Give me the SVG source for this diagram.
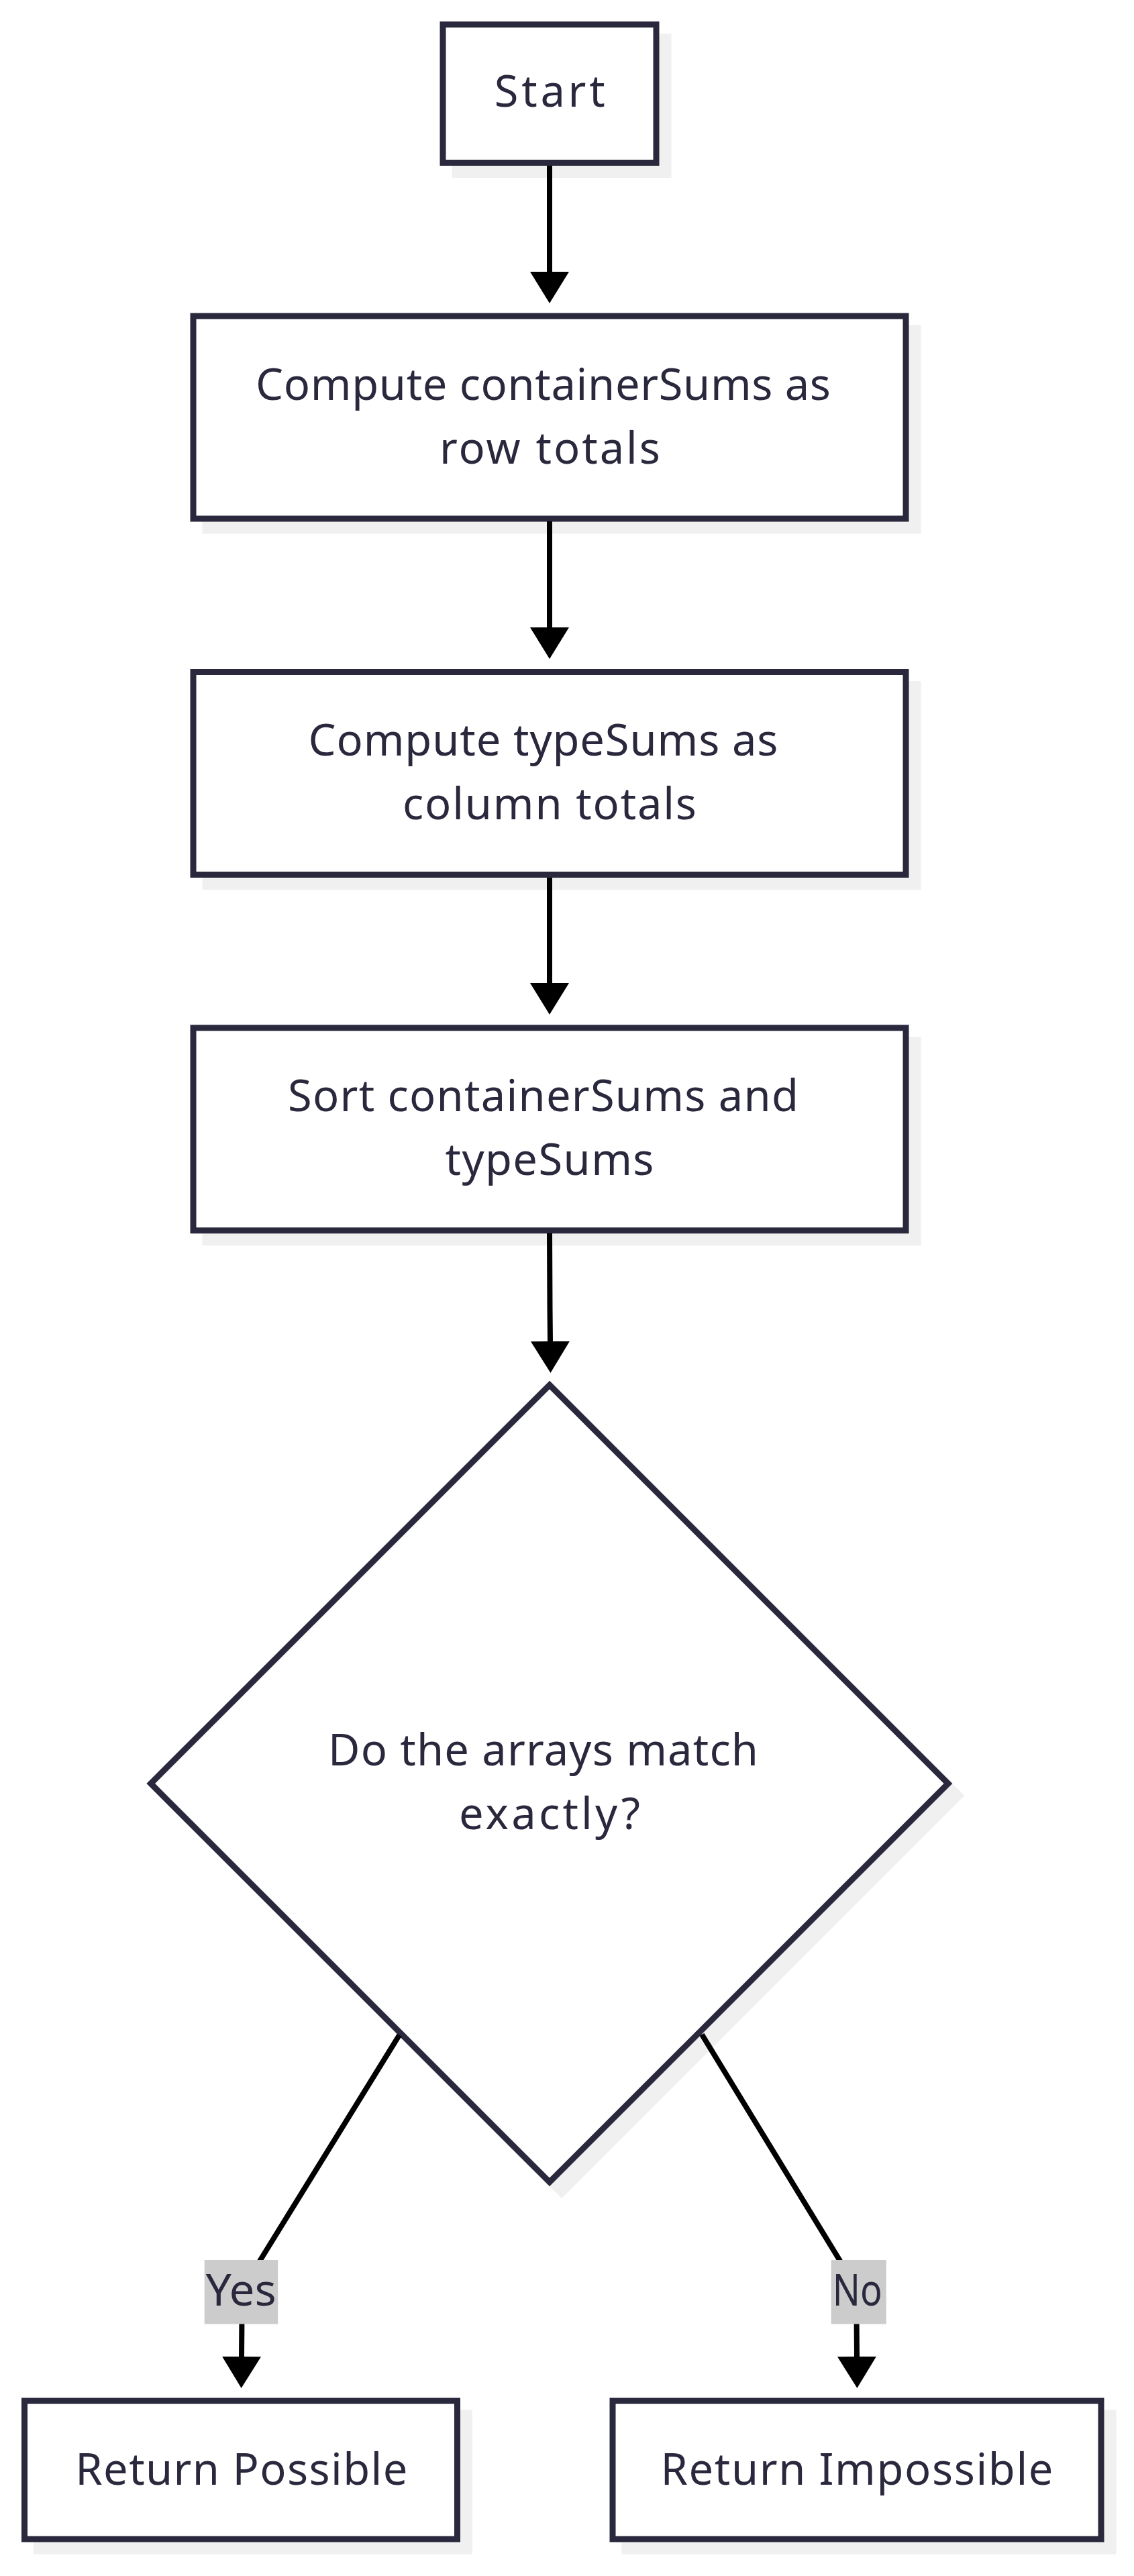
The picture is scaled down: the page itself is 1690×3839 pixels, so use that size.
<svg xmlns="http://www.w3.org/2000/svg" width="1690" height="3839" viewBox="0 0 1690 3839">
<style>
.bg{fill:#ffffff}
.shadow{fill:#f0f0f0;stroke:#f0f0f0;stroke-width:9}
.node{fill:#ffffff;stroke:#29283d;stroke-width:9}
.lbl{font-family:"Noto Sans","Open Sans",sans-serif;font-size:65px;fill:#29283d}
.edge{fill:none;stroke:#000000;stroke-width:8}
.elbg{fill:#cccccc}
</style>
<defs>
<marker id="arrow" markerUnits="userSpaceOnUse" markerWidth="48" markerHeight="58" refX="0" refY="29" orient="auto" viewBox="0 0 48 58">
<path d="M0,0 L47,29 L0,58 Z" fill="#000000"/>
</marker>
</defs>
<rect class="bg" x="0" y="0" width="1690" height="3839"/>

<g id="node-start">
<rect class="shadow" x="678" y="54.5" width="318" height="206"/>
<rect class="node" x="660" y="36.5" width="318" height="206"/>
<text class="lbl" x="736.7" y="159.3" textLength="165">Start</text>
</g>

<g id="node-rowsums">
<rect class="shadow" x="306" y="489" width="1062" height="302"/>
<rect class="node" x="288" y="471" width="1062" height="302"/>
<text class="lbl" x="381" y="595.7" textLength="857">Compute containerSums as</text>
<text class="lbl" x="655" y="690.7" textLength="329">row totals</text>
</g>

<g id="node-colsums">
<rect class="shadow" x="306" y="1019.5" width="1062" height="302"/>
<rect class="node" x="288" y="1001.5" width="1062" height="302"/>
<text class="lbl" x="459.5" y="1126" textLength="700">Compute typeSums as</text>
<text class="lbl" x="600" y="1221" textLength="438">column totals</text>
</g>

<g id="node-sort">
<rect class="shadow" x="306" y="1549.8" width="1062" height="302"/>
<rect class="node" x="288" y="1531.8" width="1062" height="302"/>
<text class="lbl" x="429" y="1656.3" textLength="761">Sort containerSums and</text>
<text class="lbl" x="663.5" y="1751.3" textLength="311">typeSums</text>
</g>

<g id="node-decision">
<polygon class="shadow" points="837,2082 1431,2676 837,3270 242.7,2676"/>
<polygon class="node" points="819,2064 1413,2658 819,3252 224.7,2658"/>
<text class="lbl" x="489" y="2630.7" textLength="641">Do the arrays match</text>
<text class="lbl" x="684" y="2725.7" textLength="270">exactly?</text>
</g>

<g id="node-possible">
<rect class="shadow" x="54.5" y="3596" width="645" height="206"/>
<rect class="node" x="36.5" y="3578" width="645" height="206"/>
<text class="lbl" x="112.3" y="3702.7" textLength="495">Return Possible</text>
</g>

<g id="node-impossible">
<rect class="shadow" x="931" y="3596" width="728" height="206"/>
<rect class="node" x="913" y="3578" width="728" height="206"/>
<text class="lbl" x="984.5" y="3702.7" textLength="585">Return Impossible</text>
</g>

<g id="connectors">
<path class="edge" d="M819,247 L819,405" marker-end="url(#arrow)"/>
<path class="edge" d="M819,777 L819,935" marker-end="url(#arrow)"/>
<path class="edge" d="M819,1308 L819,1465" marker-end="url(#arrow)"/>
<path class="edge" d="M819,1838 L819.5,1950 L820,1999" marker-end="url(#arrow)"/>
<path class="edge" d="M595,3033 L380,3381 Q361,3412 360.5,3450 L360,3512" marker-end="url(#arrow)"/>
<path class="edge" d="M1046,3032 L1259,3381 Q1276,3412 1276.5,3450 L1277,3512" marker-end="url(#arrow)"/>
<g id="label-yes">
<rect class="elbg" x="304.7" y="3368" width="109.5" height="95.5"/>
<text class="lbl" x="306.7" y="3436" textLength="105" lengthAdjust="spacingAndGlyphs">Yes</text>
</g>
<g id="label-no">
<rect class="elbg" x="1238.7" y="3368" width="82" height="95.5"/>
<text class="lbl" x="1240.7" y="3436" textLength="74" lengthAdjust="spacingAndGlyphs">No</text>
</g>
</g>
</svg>
